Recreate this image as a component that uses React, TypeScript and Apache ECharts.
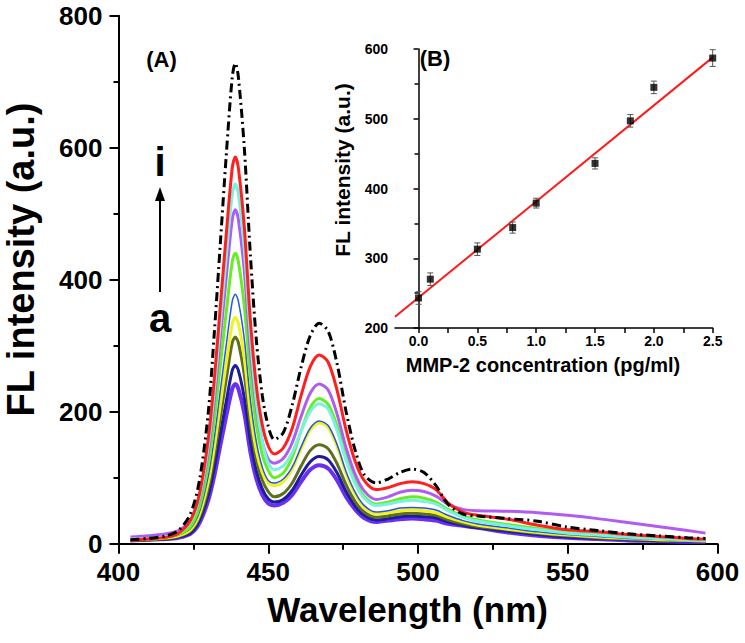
import React, { useEffect, useRef } from "react";
import * as echarts from "echarts";

// ---- Main spectra (A) ----
const wavelengths = [404, 410, 416, 420, 424, 427, 430, 432, 434, 436, 438, 439, 440, 442, 444, 446, 448, 450, 452, 455, 458, 461, 464, 467, 470, 473, 476, 479, 482, 486, 490, 494, 498, 502, 506, 510, 515, 520, 530, 540, 550, 560, 570, 580, 590, 596];

const curveA = [5, 6, 7, 9, 15, 31, 66, 103, 149, 194, 235, 242, 235, 198, 140, 99, 74, 61, 58, 62, 74, 94, 112, 119, 114, 96, 71, 52, 39, 33, 35, 37, 38, 37, 35, 30, 27, 24, 17, 12, 9, 7, 5, 4, 3, 3];
const curveB = [5, 6, 7, 10, 16, 35, 74, 115, 166, 216, 263, 270, 263, 221, 157, 111, 83, 68, 63, 67, 81, 104, 124, 132, 127, 107, 79, 57, 43, 36, 38, 41, 42, 41, 39, 33, 28, 24, 19, 14, 10, 8, 6, 5, 4, 3];
const curveC = [5, 6, 8, 11, 19, 40, 85, 134, 192, 250, 305, 313, 305, 256, 182, 128, 96, 79, 71, 76, 92, 118, 141, 150, 144, 121, 89, 64, 48, 40, 42, 45, 46, 45, 43, 36, 30, 26, 21, 16, 12, 9, 7, 6, 5, 4];
const curveD = [6, 7, 9, 12, 21, 44, 94, 146, 211, 274, 334, 343, 334, 281, 199, 141, 108, 92, 88, 94, 113, 144, 172, 183, 176, 147, 106, 75, 55, 45, 47, 50, 51, 50, 47, 40, 33, 28, 22, 17, 13, 10, 8, 6, 5, 4];
const curveE = [6, 7, 9, 13, 23, 48, 103, 161, 232, 302, 368, 378, 368, 310, 219, 155, 116, 96, 92, 98, 116, 147, 175, 186, 179, 150, 109, 78, 58, 48, 50, 54, 55, 54, 51, 43, 35, 30, 24, 18, 14, 11, 8, 7, 5, 5];
const curveF = [6, 8, 10, 14, 26, 56, 120, 188, 270, 352, 428, 440, 428, 360, 255, 180, 135, 111, 100, 107, 131, 171, 206, 220, 211, 178, 131, 94, 72, 60, 63, 68, 71, 69, 63, 52, 42, 36, 29, 23, 18, 14, 11, 8, 6, 5];
const curveG = [10, 12, 15, 20, 35, 68, 140, 218, 312, 405, 492, 506, 492, 414, 293, 207, 155, 128, 122, 129, 153, 193, 228, 242, 233, 196, 145, 105, 80, 67, 71, 78, 81, 79, 72, 60, 52, 50, 49, 47, 43, 38, 32, 26, 20, 16];
const curveH = [7, 8, 11, 16, 33, 70, 149, 233, 335, 436, 530, 545, 530, 446, 316, 215, 155, 122, 112, 118, 138, 171, 200, 212, 204, 171, 126, 91, 69, 58, 60, 64, 66, 64, 60, 50, 40, 34, 27, 21, 16, 13, 10, 8, 6, 5];
const curveI = [5, 7, 10, 16, 35, 75, 160, 250, 360, 470, 570, 586, 570, 480, 340, 240, 180, 148, 136, 145, 175, 225, 268, 286, 275, 232, 172, 125, 96, 82, 85, 91, 94, 91, 82, 62, 48, 43, 37, 28, 21, 18, 14, 11, 8, 7];
const curveJ = [6, 8, 12, 20, 45, 95, 200, 320, 455, 590, 708, 728, 708, 600, 440, 310, 225, 178, 158, 168, 210, 268, 315, 334, 322, 272, 200, 142, 105, 92, 98, 108, 113, 108, 88, 60, 45, 42, 38, 34, 25, 20, 15, 12, 9, 8];

const curves = [
  { name: "a", values: curveA, color: "#6b2ff2", width: 4, dash: null },
  { name: "b", values: curveB, color: "#1c1c9c", width: 3, dash: null },
  { name: "c", values: curveC, color: "#5f6e1c", width: 3, dash: null },
  { name: "d", values: curveD, color: "#f2f21c", width: 3, dash: null },
  { name: "e", values: curveE, color: "#2255ee", width: 1.5, dash: null },
  { name: "f", values: curveF, color: "#66ee22", width: 3, dash: null },
  { name: "g", values: curveG, color: "#b05cf0", width: 3, dash: null },
  { name: "h", values: curveH, color: "#7af0e2", width: 3, dash: null },
  { name: "i", values: curveI, color: "#ff1f1f", width: 3, dash: null },
  { name: "j", values: curveJ, color: "#000000", width: 3, dash: [9, 4, 2, 4] },
];

const xTicksMain = [400, 450, 500, 550, 600];
const yTicksMain = [0, 200, 400, 600, 800];

// ---- Inset (B) ----
const concentration = [0, 0.1, 0.5, 0.8, 1.0, 1.5, 1.8, 2.0, 2.5];
const intensity = [243, 270, 313, 344, 379, 436, 497, 545, 587];
const errors = [9, 9, 9, 8, 7, 8, 9, 9, 12];
const fitX = [-0.2, 2.5];
const fitY = [216, 588];
const insetXLabels = [0, 0.5, 1.0, 1.5, 2.0, 2.5];
const insetXTicks = [0, 0.25, 0.5, 0.75, 1.0, 1.25, 1.5, 1.75, 2.0, 2.25, 2.5];

const FONT = '"Liberation Sans", Arial, sans-serif';

export default function App() {
  const ref = useRef<HTMLDivElement>(null);
  useEffect(() => {
    if (!ref.current) return;
    const chart = echarts.init(ref.current, null, { renderer: "svg" });

    const lineSeries = curves.map((c) => ({
      type: "line",
      name: c.name,
      xAxisIndex: 0,
      yAxisIndex: 0,
      data: wavelengths.map((w, i) => [w, c.values[i]]),
      showSymbol: false,
      smooth: 0.3,
      lineStyle: {
        color: c.color,
        width: c.width,
        type: c.dash ? c.dash : "solid",
      },
      z: 2,
    }));

    const option: any = {
      animation: false,
      backgroundColor: "#fff",
      grid: [
        { left: 118.5, top: 15.7, width: 599, height: 528 },
        { left: 395, top: 49, width: 317.7, height: 279 },
      ],
      xAxis: [
        {
          type: "value",
          gridIndex: 0,
          position: "bottom",
          min: 400,
          max: 600,
          interval: 50,
          axisLine: { lineStyle: { color: "#000", width: 2 } },
          axisTick: { inside: false, length: 10, lineStyle: { color: "#000", width: 2 } },
          minorTick: { show: true, splitNumber: 2, length: 6, lineStyle: { color: "#000", width: 2 } },
          splitLine: { show: false },
          axisLabel: {
            color: "#000",
            fontSize: 26,
            fontWeight: "bold",
            fontFamily: FONT,
            margin: 15,
            customValues: xTicksMain,
          },
        },
        {
          type: "value",
          gridIndex: 1,
          position: "bottom",
          min: -0.2,
          max: 2.5,
          axisLine: { lineStyle: { color: "#000", width: 1.5 } },
          axisTick: { length: 5, customValues: insetXTicks, lineStyle: { color: "#000", width: 1.5 } },
          splitLine: { show: false },
          axisLabel: {
            color: "#000",
            fontSize: 14,
            fontWeight: "bold",
            fontFamily: FONT,
            margin: 6,
            customValues: insetXLabels,
            formatter: (v: number) => v.toFixed(1),
          },
        },
      ],
      yAxis: [
        {
          type: "value",
          gridIndex: 0,
          min: 0,
          max: 800,
          interval: 200,
          axisLine: { show: true, lineStyle: { color: "#000", width: 2 } },
          axisTick: { show: true, inside: false, length: 9, lineStyle: { color: "#000", width: 2 } },
          minorTick: { show: true, splitNumber: 2, length: 5, lineStyle: { color: "#000", width: 2 } },
          splitLine: { show: false },
          axisLabel: {
            color: "#000",
            fontSize: 26,
            fontWeight: "bold",
            fontFamily: FONT,
            margin: 16,
            customValues: yTicksMain,
          },
        },
        {
          type: "value",
          gridIndex: 1,
          min: 200,
          max: 600,
          interval: 100,
          axisLine: { show: true, lineStyle: { color: "#000", width: 1.5 } },
          axisTick: { show: true, length: 5, lineStyle: { color: "#000", width: 1.5 } },
          minorTick: { show: true, splitNumber: 2, length: 4, lineStyle: { color: "#000", width: 1.5 } },
          splitLine: { show: false },
          axisLabel: {
            color: "#000",
            fontSize: 14,
            fontWeight: "bold",
            fontFamily: FONT,
            margin: 7,
          },
        },
      ],
      series: [
        ...lineSeries,
        {
          type: "line",
          name: "fit",
          xAxisIndex: 1,
          yAxisIndex: 1,
          data: fitX.map((x, i) => [x, fitY[i]]),
          showSymbol: false,
          lineStyle: { color: "#ff1a1a", width: 2 },
          z: 3,
        },
        {
          type: "custom",
          name: "err",
          xAxisIndex: 1,
          yAxisIndex: 1,
          data: concentration.map((x, i) => [x, intensity[i], errors[i]]),
          encode: { x: 0, y: 1 },
          renderItem: (params: any, api: any) => {
            const x = api.value(0);
            const y = api.value(1);
            const e = api.value(2);
            const top = api.coord([x, y + e]);
            const bot = api.coord([x, y - e]);
            const cap = 3;
            const st = { stroke: "#555", lineWidth: 1 };
            return {
              type: "group",
              children: [
                { type: "line", shape: { x1: top[0], y1: top[1], x2: bot[0], y2: bot[1] }, style: st },
                { type: "line", shape: { x1: top[0] - cap, y1: top[1], x2: top[0] + cap, y2: top[1] }, style: st },
                { type: "line", shape: { x1: bot[0] - cap, y1: bot[1], x2: bot[0] + cap, y2: bot[1] }, style: st },
              ],
            };
          },
          z: 4,
        },
        {
          type: "scatter",
          name: "points",
          xAxisIndex: 1,
          yAxisIndex: 1,
          data: concentration.map((x, i) => [x, intensity[i]]),
          symbol: "rect",
          symbolSize: 7,
          itemStyle: { color: "#000" },
          z: 5,
        },
      ],
      graphic: [
        { type: "text", x: 161.5, y: 59, style: { text: "(A)", fontSize: 22, fontWeight: "bold", fontFamily: FONT, fill: "#000", align: "center", verticalAlign: "middle" } },
        { type: "text", x: 435, y: 58, style: { text: "(B)", fontSize: 22, fontWeight: "bold", fontFamily: FONT, fill: "#000", align: "center", verticalAlign: "middle" } },
        { type: "text", x: 21, y: 259.5, rotation: Math.PI / 2, style: { text: "FL intensity (a.u.)", fontSize: 38, fontWeight: "bold", fontFamily: FONT, fill: "#000", align: "center", verticalAlign: "middle" } },
        { type: "text", x: 407.6, y: 609.5, style: { text: "Wavelength (nm)", fontSize: 35, fontWeight: "bold", fontFamily: FONT, fill: "#000", align: "center", verticalAlign: "middle" } },
        { type: "text", x: 342.5, y: 170, rotation: Math.PI / 2, style: { text: "FL intensity (a.u.)", fontSize: 21, fontWeight: "bold", fontFamily: FONT, fill: "#000", align: "center", verticalAlign: "middle" } },
        { type: "text", x: 543, y: 364.7, style: { text: "MMP-2 concentration (pg/ml)", fontSize: 20, fontWeight: "bold", fontFamily: FONT, fill: "#000", align: "center", verticalAlign: "middle" } },
        { type: "text", x: 160, y: 162, style: { text: "i", fontSize: 40, fontWeight: "bold", fontFamily: FONT, fill: "#000", align: "center", verticalAlign: "middle" } },
        { type: "text", x: 160, y: 318, style: { text: "a", fontSize: 40, fontWeight: "bold", fontFamily: FONT, fill: "#000", align: "center", verticalAlign: "middle" } },
        { type: "line", shape: { x1: 160, y1: 292, x2: 160, y2: 198 }, style: { stroke: "#000", lineWidth: 2 } },
        { type: "polygon", shape: { points: [[155, 201], [165, 201], [160, 187]] }, style: { fill: "#000" } },
      ],
    };

    chart.setOption(option);
    return () => chart.dispose();
  }, []);

  return (
    <div
      ref={ref}
      style={{ position: "fixed", left: 0, top: 0, width: 745, height: 643, background: "#fff" }}
    />
  );
}
